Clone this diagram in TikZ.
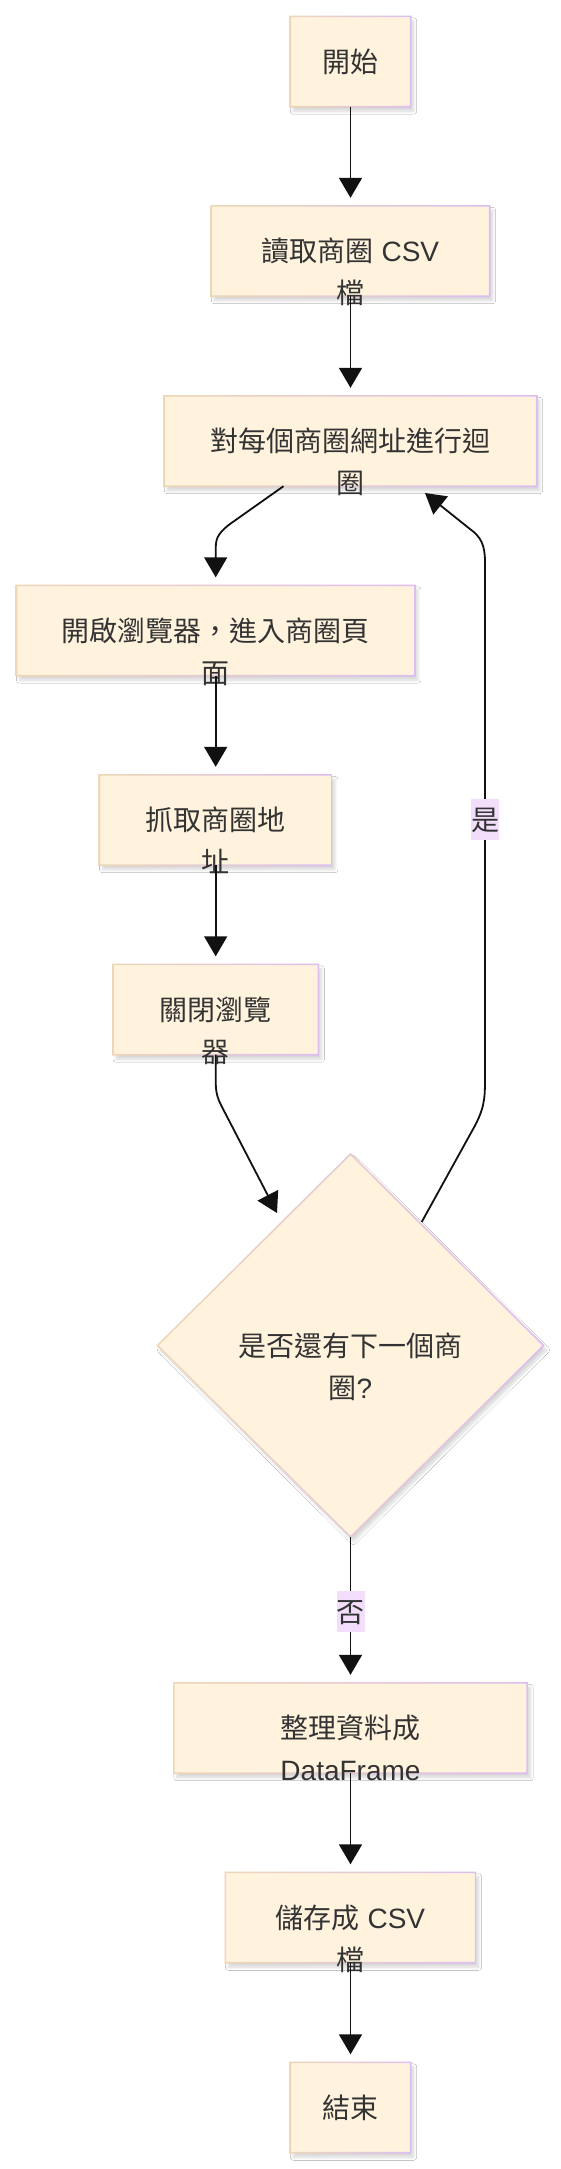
\documentclass[tikz,border=0pt]{standalone}
\usepackage{fontspec}
\setmainfont{Liberation Sans}
\newfontfamily\cjk{Noto Sans CJK TC}
\usetikzlibrary{arrows.meta,backgrounds,shadows.blur,calc}
\definecolor{boxfill}{HTML}{FFF3DE}
\definecolor{bordl}{HTML}{EDD7B6}
\definecolor{bordr}{HTML}{DDBDF2}
\definecolor{txt}{HTML}{333333}
\definecolor{lbl}{HTML}{F2DDFB}
\definecolor{edgec}{HTML}{111111}
\newcommand\twol[2]{\begin{tabular}[t]{@{}c@{}}#1\\#2\end{tabular}}
\tikzset{
  softshadow/.style={blur shadow={shadow xshift=3pt, shadow yshift=-4.5pt, shadow blur radius=3pt, shadow blur steps=8, shadow opacity=16}},
  stepbox/.style={align=center, text=txt, font=\fontsize{28}{42}\selectfont,
    inner sep=0pt, text height=24pt, text depth=3pt, minimum height=90pt},
  lblbox/.style={fill=lbl, text=txt, font=\fontsize{28}{42}\selectfont,
    inner sep=0pt, text height=24pt, text depth=3pt, minimum width=28pt, minimum height=41pt},
  arr/.style={draw=edgec, line width=1.8pt, -{Triangle[length=20pt,width=23pt]}},
  arrbox/.style={arr, shorten >=8pt},
}
\newcommand\boxbg[1]{%
  \fill[boxfill, softshadow] (#1.south west) rectangle (#1.north east);
  \shade[even odd rule, left color=bordl, right color=bordr]
    ($(#1.south west)+(-0.8pt,-0.8pt)$) rectangle ($(#1.north east)+(0.8pt,0.8pt)$)
    ($(#1.south west)+(0.8pt,0.8pt)$) rectangle ($(#1.north east)+(-0.8pt,-0.8pt)$);
}
\begin{document}
\begin{tikzpicture}[x=1pt,y=-1pt]
\useasboundingbox (0,0) rectangle (560,2169);
% nodes
\node[stepbox, minimum width=120pt] (nStart) at (350.5,61.5) {\cjk 開始};
\node[stepbox, minimum width=278pt] (nRead) at (350.5,251) {\twol{{\cjk 讀取商圈} CSV}{\cjk 檔}};
\node[stepbox, minimum width=372pt] (nLoop) at (350.5,441) {\twol{\cjk 對每個商圈網址進行迴}{\cjk 圈}};
\node[stepbox, minimum width=398pt] (nOpen) at (215.7,630.5) {\twol{\cjk 開啟瀏覽器，進入商圈頁}{\cjk 面}};
\node[stepbox, minimum width=232pt] (nGrab) at (215.7,820) {\twol{\cjk 抓取商圈地}{\cjk 址}};
\node[stepbox, minimum width=205pt] (nClose) at (215.7,1009.5) {\twol{\cjk 關閉瀏覽}{\cjk 器}};
\node[stepbox, minimum width=10pt, minimum height=10pt] (nDec) at (350.5,1345.5) {\twol{\cjk 是否還有下一個商}{{\cjk 圈}?}};
\node[stepbox, minimum width=353pt] (nTidy) at (350.5,1728) {\twol{\cjk 整理資料成}{DataFrame}};
\node[stepbox, minimum width=250pt] (nSave) at (350.5,1917.5) {\twol{{\cjk 儲存成} CSV}{\cjk 檔}};
\node[stepbox, minimum width=120pt] (nEnd) at (350.5,2107.5) {\cjk 結束};
% diamond corners
\coordinate (dT) at (350.5,1154);
\coordinate (dB) at (350.5,1537);
\coordinate (dL) at (157.5,1345.5);
\coordinate (dR) at (543.5,1345.5);
% backgrounds
\begin{pgfonlayer}{background}
  \fill[white] (0,0) rectangle (560,2169);
  \boxbg{nStart}\boxbg{nRead}\boxbg{nLoop}\boxbg{nOpen}\boxbg{nGrab}\boxbg{nClose}
  \boxbg{nTidy}\boxbg{nSave}\boxbg{nEnd}
  \fill[boxfill, softshadow] (dT) -- (dR) -- (dB) -- (dL) -- cycle;
  \shade[even odd rule, left color=bordl, right color=bordr]
    (350.5,1152.9) -- (544.6,1345.5) -- (350.5,1538.1) -- (156.4,1345.5) -- cycle
    (350.5,1155.1) -- (542.4,1345.5) -- (350.5,1535.9) -- (158.6,1345.5) -- cycle;
\end{pgfonlayer}
% connectors
\draw[arrbox] (nStart) -- (nRead);
\draw[arrbox] (nRead) -- (nLoop);
\coordinate (loopOut) at ($(nLoop.south)+(-67pt,0pt)$);
\draw[arrbox] (loopOut) -- (230,524) .. controls (215.7,535) and (215.7,540) .. (215.7,552) -- (nOpen.north);
\draw[arrbox] (nOpen) -- (nGrab);
\draw[arrbox] (nGrab) -- (nClose);
\coordinate (decIn) at (277,1213);
\draw[arr] (nClose.south) -- (215.7,1080) .. controls (215.7,1092) and (217,1097) .. (221.5,1106) -- (decIn);
\coordinate (decOut) at (421.7,1222);
\coordinate (loopIn) at (425,493);
\draw[arr] (decOut) -- (472,1131) .. controls (484,1110) and (485,1100) .. (485,1080) -- (485,562)
  .. controls (485,545) and (481,537) .. (470,529) -- (loopIn);
\node[lblbox] (lYes) at (485,819.5) {\cjk 是};
\draw[arrbox] (dB) -- (nTidy);
\node[lblbox] (lNo) at (350.5,1611.5) {\cjk 否};
\draw[arrbox] (nTidy) -- (nSave);
\draw[arrbox] (nSave) -- (nEnd);
\end{tikzpicture}
\end{document}
